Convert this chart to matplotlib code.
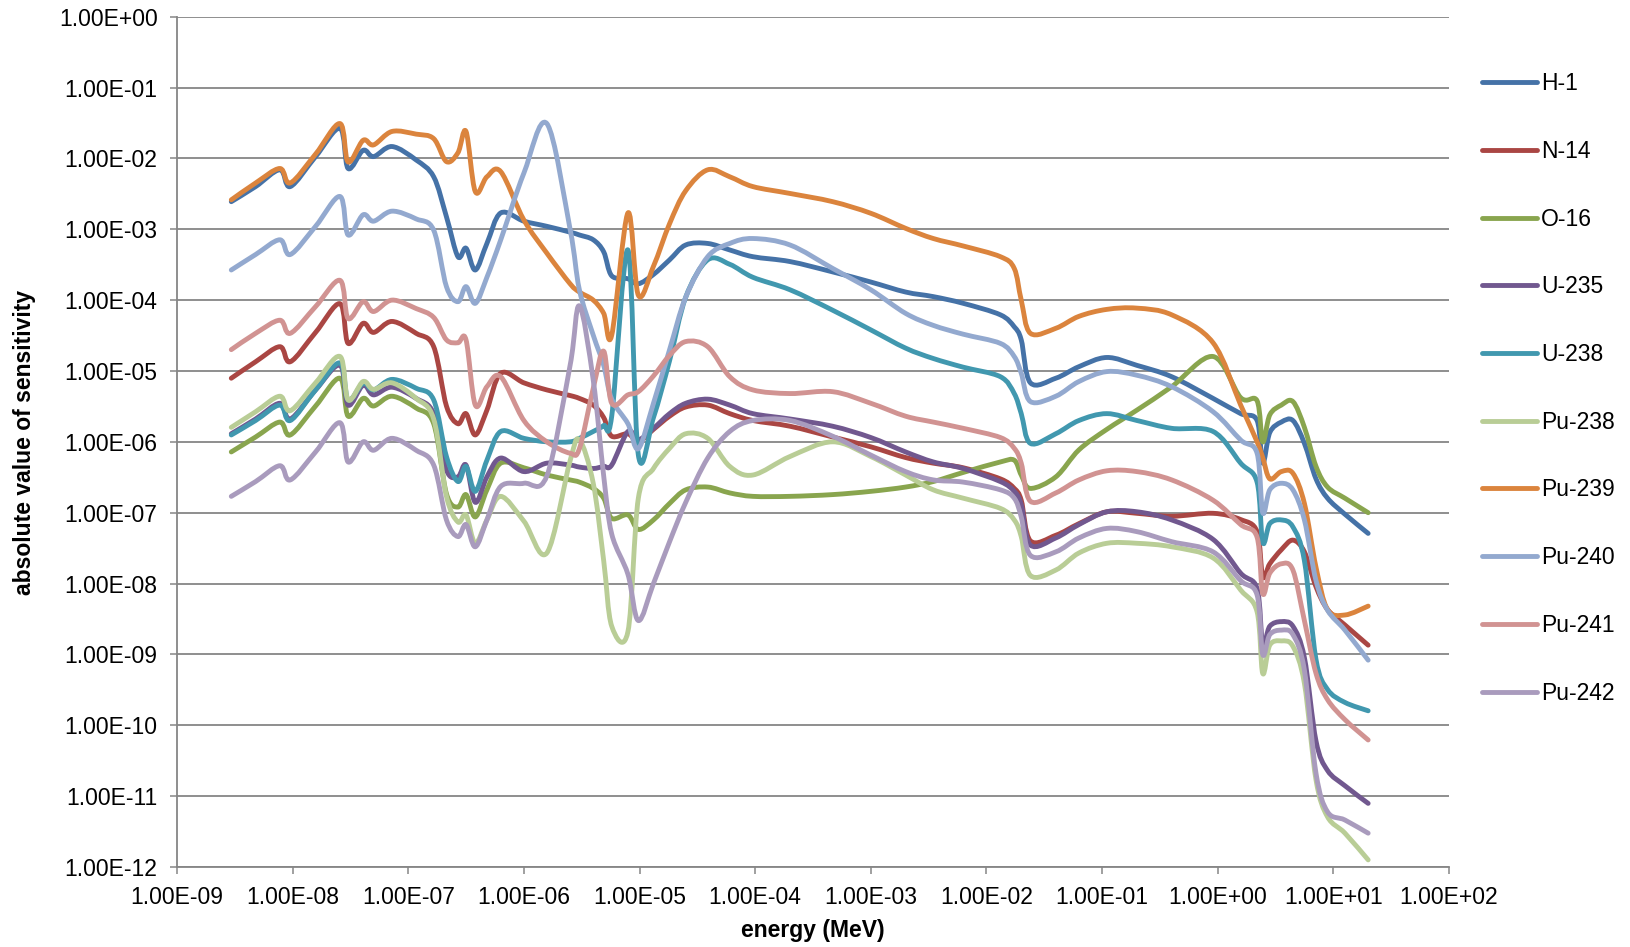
import numpy as np
import matplotlib
matplotlib.use("Agg")
import matplotlib.pyplot as plt
from matplotlib.path import Path
from matplotlib.patches import PathPatch
from matplotlib.lines import Line2D
from matplotlib.ticker import FixedLocator, NullLocator, FuncFormatter

plt.rcParams['font.family'] = ['Liberation Sans', 'DejaVu Sans']

# energy grid (MeV), shared by all series
energy = [2.95e-9, 4.79e-9, 7.76e-9, 9.55e-9, 1.58e-8, 2.57e-8, 3.02e-8, 4.07e-8, 5.01e-8, 7.24e-8,
          1.17e-7, 1.66e-7, 2.14e-7, 2.69e-7, 3.16e-7, 3.80e-7, 4.79e-7, 6.31e-7, 1.00e-6, 1.58e-6,
          2.51e-6, 3.02e-6, 3.98e-6, 4.90e-6, 5.75e-6, 7.94e-6, 9.77e-6, 1.32e-5, 1.82e-5, 2.51e-5,
          3.89e-5, 6.03e-5, 9.55e-5, 2.00e-4, 4.68e-4, 1.00e-3, 2.00e-3, 3.47e-3, 6.31e-3, 1.32e-2,
          1.74e-2, 2.00e-2, 2.40e-2, 3.98e-2, 6.31e-2, 0.110, 0.200, 0.400, 0.912, 1.58,
          2.19, 2.45, 2.82, 3.55, 4.47, 5.62, 7.08, 8.91, 12.6, 20.0]

h1 = [2.45e-3, 4.0e-3, 6.9e-3, 4.0e-3, 1.06e-2, 2.65e-2, 7.2e-3, 1.3e-2, 1.06e-2, 1.47e-2,
      9.5e-3, 5.5e-3, 1.5e-3, 4.1e-4, 5.4e-4, 2.66e-4, 6.3e-4, 1.7e-3, 1.3e-3, 1.1e-3,
      9.1e-4, 8.3e-4, 7.1e-4, 4.8e-4, 2.2e-4, 2.0e-4, 1.7e-4, 2.3e-4, 3.7e-4, 6.0e-4,
      6.3e-4, 5.1e-4, 4.1e-4, 3.5e-4, 2.5e-4, 1.8e-4, 1.3e-4, 1.12e-4, 9.0e-5, 6.2e-5,
      4.2e-5, 2.75e-5, 6.8e-6, 7.9e-6, 1.15e-5, 1.55e-5, 1.2e-5, 8.3e-6, 4.1e-6, 2.5e-6,
      2.0e-6, 5.0e-7, 1.35e-6, 1.9e-6, 2.0e-6, 9.5e-7, 3.0e-7, 1.6e-7, 9.5e-8, 5.1e-8]

n14 = [7.9e-6, 1.35e-5, 2.2e-5, 1.35e-5, 3.5e-5, 8.9e-5, 2.45e-5, 4.7e-5, 3.5e-5, 5.0e-5,
       3.4e-5, 2.2e-5, 3.2e-6, 1.8e-6, 2.5e-6, 1.25e-6, 2.8e-6, 9.3e-6, 6.8e-6, 5.4e-6,
       4.5e-6, 4.1e-6, 3.3e-6, 2.2e-6, 1.2e-6, 1.3e-6, 1.0e-6, 1.5e-6, 2.3e-6, 3.1e-6,
       3.3e-6, 2.5e-6, 2.0e-6, 1.66e-6, 1.17e-6, 8.5e-7, 6.0e-7, 5.0e-7, 4.3e-7, 3.0e-7,
       2.2e-7, 1.5e-7, 4.0e-8, 4.8e-8, 7.0e-8, 1.03e-7, 9.8e-8, 8.9e-8, 9.8e-8, 8.0e-8,
       5.4e-8, 1.25e-8, 1.9e-8, 3.0e-8, 4.1e-8, 2.8e-8, 9.0e-9, 4.3e-9, 2.6e-9, 1.35e-9]

o16 = [7.2e-7, 1.17e-6, 1.9e-6, 1.25e-6, 3.2e-6, 7.9e-6, 2.3e-6, 4.1e-6, 3.2e-6, 4.4e-6,
       3.0e-6, 1.8e-6, 1.85e-7, 1.2e-7, 1.8e-7, 8.7e-8, 2.1e-7, 5.0e-7, 4.3e-7, 3.4e-7,
       2.9e-7, 2.7e-7, 2.2e-7, 1.6e-7, 8.3e-8, 9.3e-8, 5.8e-8, 7.9e-8, 1.35e-7, 2.1e-7,
       2.3e-7, 1.9e-7, 1.7e-7, 1.7e-7, 1.8e-7, 2.0e-7, 2.3e-7, 2.75e-7, 3.7e-7, 5.2e-7,
       5.5e-7, 3.4e-7, 2.2e-7, 3.2e-7, 7.7e-7, 1.5e-6, 2.8e-6, 6.0e-6, 1.6e-5, 4.2e-6,
       3.8e-6, 1.0e-6, 2.4e-6, 3.3e-6, 3.7e-6, 1.6e-6, 4.5e-7, 2.3e-7, 1.6e-7, 1.0e-7]

u235 = [1.3e-6, 2.1e-6, 3.5e-6, 2.1e-6, 5.4e-6, 1.2e-5, 3.3e-6, 6.3e-6, 4.6e-6, 5.9e-6,
        4.1e-6, 2.5e-6, 4.0e-7, 3.2e-7, 4.7e-7, 1.4e-7, 3.2e-7, 5.9e-7, 3.8e-7, 5.0e-7,
        4.7e-7, 4.4e-7, 4.2e-7, 4.5e-7, 4.7e-7, 1.4e-6, 1.07e-6, 1.55e-6, 2.5e-6, 3.5e-6,
        4.0e-6, 3.3e-6, 2.5e-6, 2.1e-6, 1.66e-6, 1.15e-6, 7.2e-7, 5.2e-7, 4.2e-7, 2.75e-7,
        2.0e-7, 1.3e-7, 3.5e-8, 4.4e-8, 6.8e-8, 1.03e-7, 1.03e-7, 7.9e-8, 4.2e-8, 1.4e-8,
        8.5e-9, 1.4e-9, 2.5e-9, 2.9e-9, 2.5e-9, 9.0e-10, 6.0e-11, 2.3e-11, 1.4e-11, 7.9e-12]

u238 = [1.25e-6, 2.0e-6, 3.3e-6, 2.0e-6, 5.4e-6, 1.3e-5, 3.9e-6, 6.7e-6, 5.4e-6, 7.6e-6,
        5.7e-6, 3.9e-6, 6.2e-7, 2.75e-7, 4.5e-7, 2.0e-7, 5.5e-7, 1.4e-6, 1.12e-6, 1.0e-6,
        1.0e-6, 1.12e-6, 1.4e-6, 1.7e-6, 2.3e-6, 5.1e-4, 6.5e-7, 2.2e-6, 1.4e-5, 1.1e-4,
        3.7e-4, 3.2e-4, 2.1e-4, 1.4e-4, 7.2e-5, 3.8e-5, 2.1e-5, 1.5e-5, 1.13e-5, 8.3e-6,
        4.8e-6, 2.5e-6, 9.5e-7, 1.3e-6, 2.0e-6, 2.5e-6, 2.0e-6, 1.55e-6, 1.4e-6, 5.0e-7,
        2.7e-7, 3.8e-8, 7.0e-8, 7.9e-8, 6.3e-8, 2.1e-8, 8.5e-10, 3.2e-10, 2.1e-10, 1.6e-10]

pu238 = [1.6e-6, 2.66e-6, 4.4e-6, 2.75e-6, 6.8e-6, 1.6e-5, 3.9e-6, 7.1e-6, 5.5e-6, 6.8e-6,
         4.1e-6, 2.1e-6, 1.7e-7, 7.4e-8, 9.3e-8, 3.7e-8, 7.9e-8, 1.7e-7, 7.6e-8, 2.7e-8,
         5.4e-7, 1.07e-6, 2.6e-7, 2.1e-8, 2.5e-9, 2.1e-9, 1.6e-7, 4.2e-7, 8.1e-7, 1.3e-6,
         1.12e-6, 4.5e-7, 3.4e-7, 6.2e-7, 1.0e-6, 6.2e-7, 3.4e-7, 2.1e-7, 1.6e-7, 1.15e-7,
         7.9e-8, 4.6e-8, 1.3e-8, 1.55e-8, 2.7e-8, 3.7e-8, 3.7e-8, 3.3e-8, 2.3e-8, 8.1e-9,
         4.0e-9, 5.4e-10, 1.35e-9, 1.55e-9, 1.3e-9, 3.9e-10, 1.7e-11, 5.1e-12, 3.0e-12, 1.26e-12]

pu239 = [2.6e-3, 4.5e-3, 7.2e-3, 4.5e-3, 1.15e-2, 3.1e-2, 8.9e-3, 1.8e-2, 1.55e-2, 2.4e-2,
         2.2e-2, 1.9e-2, 9.0e-3, 1.2e-2, 2.4e-2, 3.4e-3, 5.5e-3, 6.5e-3, 1.35e-3, 4.6e-4,
         1.7e-4, 1.3e-4, 1.0e-4, 6.5e-5, 3.2e-5, 1.7e-3, 1.17e-4, 3.0e-4, 1.2e-3, 3.5e-3,
         6.9e-3, 5.5e-3, 4.0e-3, 3.2e-3, 2.45e-3, 1.68e-3, 1.03e-3, 7.4e-4, 5.8e-4, 4.1e-4,
         2.8e-4, 1.0e-4, 3.4e-5, 4.0e-5, 5.9e-5, 7.4e-5, 7.7e-5, 6.2e-5, 2.5e-5, 3.3e-6,
         1.0e-6, 6.0e-7, 3.0e-7, 3.8e-7, 3.6e-7, 1.35e-7, 1.7e-8, 4.3e-9, 3.6e-9, 4.8e-9]

pu240 = [2.66e-4, 4.4e-4, 7.1e-4, 4.4e-4, 1.1e-3, 2.9e-3, 8.3e-4, 1.6e-3, 1.3e-3, 1.8e-3,
         1.4e-3, 9.7e-4, 1.55e-4, 9.5e-5, 1.55e-4, 9.0e-5, 2.1e-4, 7.1e-4, 6.2e-3, 3.1e-2,
         1.0e-3, 1.4e-4, 3.2e-5, 1.2e-5, 4.0e-6, 1.8e-6, 8.0e-7, 3.5e-6, 2.0e-5, 1.1e-4,
         4.1e-4, 6.3e-4, 7.4e-4, 6.0e-4, 2.8e-4, 1.4e-4, 6.5e-5, 4.4e-5, 3.3e-5, 2.45e-5,
         1.6e-5, 9.3e-6, 3.7e-6, 4.4e-6, 7.1e-6, 9.8e-6, 8.7e-6, 6.0e-6, 2.66e-6, 1.06e-6,
         6.9e-7, 1.0e-7, 2.1e-7, 2.6e-7, 2.1e-7, 7.9e-8, 1.1e-8, 4.2e-9, 2.2e-9, 8.3e-10]

pu241 = [2.0e-5, 3.4e-5, 5.2e-5, 3.4e-5, 8.1e-5, 1.9e-4, 5.5e-5, 9.5e-5, 6.9e-5, 1.0e-4,
         7.6e-5, 5.7e-5, 2.75e-5, 2.5e-5, 2.75e-5, 3.3e-6, 6.0e-6, 8.3e-6, 2.0e-6, 1.0e-6,
         6.9e-7, 8.0e-7, 5.7e-6, 1.9e-5, 3.5e-6, 4.6e-6, 5.1e-6, 8.5e-6, 1.66e-5, 2.6e-5,
         2.2e-5, 8.3e-6, 5.4e-6, 4.8e-6, 5.1e-6, 3.5e-6, 2.3e-6, 1.9e-6, 1.55e-6, 1.15e-6,
         8.1e-7, 5.0e-7, 1.45e-7, 1.9e-7, 2.9e-7, 3.9e-7, 3.8e-7, 2.9e-7, 1.5e-7, 6.8e-8,
         4.5e-8, 7.2e-9, 1.4e-8, 1.9e-8, 1.55e-8, 3.0e-9, 5.4e-10, 2.3e-10, 1.2e-10, 6.2e-11]

pu242 = [1.7e-7, 2.75e-7, 4.6e-7, 2.9e-7, 7.2e-7, 1.86e-6, 5.2e-7, 1.0e-6, 7.6e-7, 1.12e-6,
         7.6e-7, 4.7e-7, 7.9e-8, 4.6e-8, 6.8e-8, 3.3e-8, 7.9e-8, 2.35e-7, 2.6e-7, 3.3e-7,
         1.2e-5, 8.3e-5, 7.4e-6, 3.3e-7, 5.0e-8, 1.35e-8, 3.0e-9, 1.0e-8, 3.9e-8, 1.4e-7,
         5.9e-7, 1.4e-6, 2.0e-6, 2.0e-6, 1.2e-6, 6.5e-7, 3.8e-7, 2.9e-7, 2.7e-7, 2.1e-7,
         1.6e-7, 8.7e-8, 2.5e-8, 2.8e-8, 4.4e-8, 6.0e-8, 5.4e-8, 3.9e-8, 2.8e-8, 1.1e-8,
         6.9e-9, 1.0e-9, 1.9e-9, 2.2e-9, 1.9e-9, 6.0e-10, 2.1e-11, 6.0e-12, 4.6e-12, 3.0e-12]

names = ["H-1", "N-14", "O-16", "U-235", "U-238", "Pu-238", "Pu-239", "Pu-240", "Pu-241", "Pu-242"]
colors = ["#4572A7", "#AA4643", "#89A54E", "#71588F", "#4198AF",
          "#B9CD96", "#DB843D", "#93A9CF", "#D19392", "#A99BBD"]
values = [h1, n14, o16, u235, u238, pu238, pu239, pu240, pu241, pu242]


def smooth_path(x, y):
    # excel-like smoothed line: bezier segments in log-log space
    lx = np.log10(x)
    ly = np.log10(y)
    n = len(lx)
    verts = [(lx[0], ly[0])]
    codes = [Path.MOVETO]
    for i in range(n - 1):
        a = max(i - 1, 0)
        b = min(i + 2, n - 1)
        c1 = (lx[i] + (lx[i + 1] - lx[a]) / 6, ly[i] + (ly[i + 1] - ly[a]) / 6)
        c2 = (lx[i + 1] - (lx[b] - lx[i]) / 6, ly[i + 1] - (ly[b] - ly[i]) / 6)
        verts += [c1, c2, (lx[i + 1], ly[i + 1])]
        codes += [Path.CURVE4] * 3
    return Path(10 ** np.array(verts), codes)


fig = plt.figure(figsize=(16.31, 9.47), dpi=100)
ax = fig.add_axes([0.1085, 0.0845, 0.7799, 0.8979])
ax.set_xscale('log')
ax.set_yscale('log')
ax.set_xlim(1e-9, 1e2)
ax.set_ylim(1e-12, 1e0)

grey = "#868686"
lw = 3.5
handles = []
for name, vals, c in zip(names, values, colors):
    p = PathPatch(smooth_path(energy, vals), fill=False, edgecolor=c, lw=lw,
                  capstyle='round', joinstyle='round', zorder=3)
    ax.add_patch(p)
    handles.append(Line2D([], [], color=c, lw=lw, solid_capstyle='round', label=name))

ax.xaxis.set_major_locator(FixedLocator([10.0 ** k for k in range(-9, 3)]))
ax.yaxis.set_major_locator(FixedLocator([10.0 ** k for k in range(-12, 1)]))
ax.xaxis.set_minor_locator(NullLocator())
ax.yaxis.set_minor_locator(NullLocator())
fmt = FuncFormatter(lambda v, pos: "%.2E" % v)
ax.xaxis.set_major_formatter(fmt)
ax.yaxis.set_major_formatter(fmt)
ax.tick_params(axis='both', direction='out', length=5, width=1.1, color=grey,
               labelsize=16.5, pad=9)

ax.yaxis.grid(True, color=grey, lw=1.3)
ax.set_axisbelow(True)
for s in ['top', 'right']:
    ax.spines[s].set_visible(False)
for s in ['left', 'bottom']:
    ax.spines[s].set_color(grey)
    ax.spines[s].set_linewidth(1.3)

fig.text(0.4985, 0.017, "energy (MeV)", ha='center', va='center',
         fontsize=16.5, fontweight='bold')
fig.text(0.0152, 0.533, "absolute value of sensitivity", ha='center', va='center',
         rotation=90, fontsize=16.5, fontweight='bold')

fig.legend(handles=handles, loc='upper left', bbox_to_anchor=(0.9087, 0.9236),
           frameon=False, fontsize=16.5, handlelength=2.4, handletextpad=0.17,
           labelspacing=1.95, borderpad=0, borderaxespad=0)

fig.savefig("out.png", dpi=100)
